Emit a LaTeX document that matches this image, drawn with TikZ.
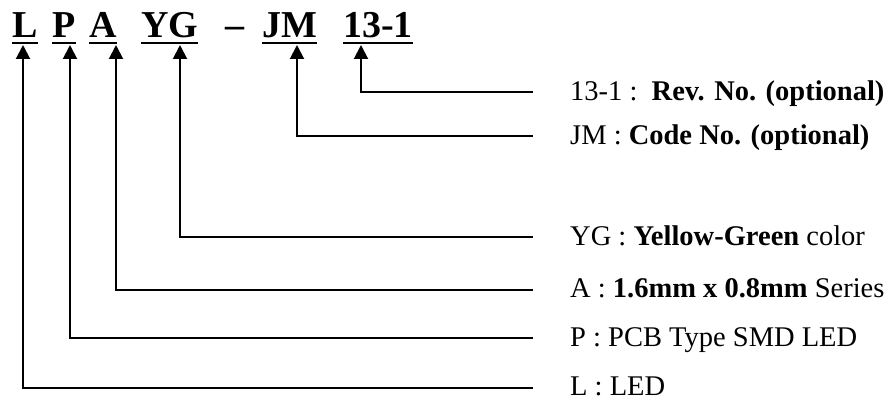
\documentclass[tikz,border=0pt]{standalone}
\usepackage{fontspec}
\setmainfont{Liberation Serif}
\usetikzlibrary{arrows.meta}
\begin{document}
\begin{tikzpicture}[x=1pt,y=-1pt,
  code/.style={anchor=base west,inner sep=0pt,font=\fontsize{38}{40}\selectfont\bfseries},
  desc/.style={anchor=base west,inner sep=0pt,font=\fontsize{28.5}{32}\selectfont},
  uline/.style={line width=2pt},
  lead/.style={line width=2pt,-{Triangle[length=14pt,width=14pt]}}]
\useasboundingbox (0,0) rectangle (893,401);
% title
\node[code] (cL) at (12,38) {L};
\node[code] (cP) at (52,38) {P};
\node[code] (cA) at (89,38) {A};
\node[code] (cYG) at (141,38) {YG};
\node[code] (cD) at (225,38) {–};
\node[code] (cJM) at (262,38) {JM};
\node[code] (cR) at (343,38) {13-1};
\foreach \n in {cL,cP,cA,cYG,cJM,cR}
  \draw[uline] ([yshift=-5pt]\n.base west) -- ([yshift=-5pt]\n.base east);
% descriptions
\node[desc] (dR) at (570,100) {13-1 :\ \ \textbf{Rev. No. (optional)}};
\node[desc] (dJM) at (570,144) {JM : \textbf{Code No. (optional)}};
\node[desc] (dYG) at (570,245) {YG : \textbf{Yellow-Green} color};
\node[desc] (dA) at (570,297) {A : \textbf{1.6mm x 0.8mm} Series};
\node[desc] (dP) at (570,346) {P : PCB Type SMD LED};
\node[desc] (dL) at (570,395) {L : LED};
% leader ends
\coordinate (eR) at (533,92);
\coordinate (eJM) at (533,136);
\coordinate (eYG) at (533,237);
\coordinate (eA) at (533,290);
\coordinate (eP) at (533,338);
\coordinate (eL) at (533,388);
% arrow tips
\coordinate (tL) at (23,45);
\coordinate (tP) at (70,45);
\coordinate (tA) at (116,45);
\coordinate (tYG) at (180,45);
\coordinate (tJM) at (297,45);
\coordinate (tR) at (361,45);
\foreach \n in {L,P,A,YG,JM,R}
  \draw[lead] (e\n) -| (t\n);
\end{tikzpicture}
\end{document}
